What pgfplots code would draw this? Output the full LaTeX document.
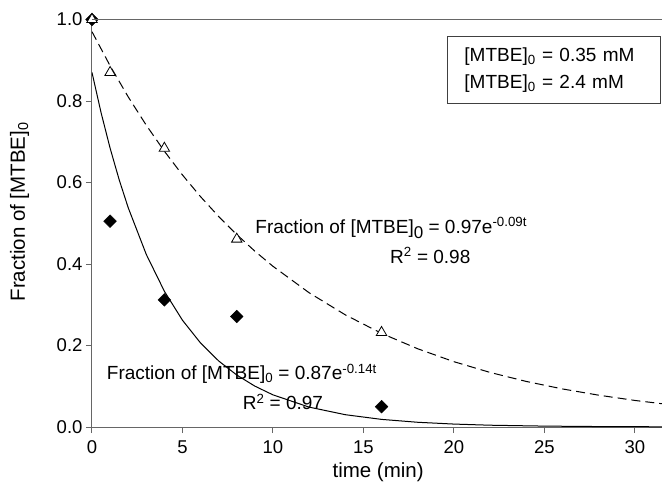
\documentclass[border=0pt]{standalone}
\usepackage{fontspec}
\setmainfont{Liberation Sans}
\usepackage{pgfplots}
\pgfplotsset{compat=1.18}

\begin{document}
\begin{tikzpicture}[font=\fontsize{19}{23}\selectfont]
\begin{axis}[
  name=ax, scale only axis, width=570pt, height=407.5pt,
  xmin=0, xmax=31.5, ymin=0, ymax=1,
  axis lines*=left, axis line style={black!60, line width=1pt},
  tick align=outside, major tick length=6pt, tick style={black!60, line width=1pt},
  xtick={0,5,10,15,20,25,30}, ytick={0,0.2,0.4,0.6,0.8,1.0},
  tick label style={font=\fontsize{18.5}{22}\selectfont},
  x tick label style={yshift=-4pt},
  y tick label style={/pgf/number format/.cd, fixed, fixed zerofill, precision=1},
  /pgf/number format/assume math mode=true,
  xlabel={time (min)}, ylabel={Fraction of [MTBE]\textsubscript{0}},
  label style={font=\fontsize{20.5}{24}\selectfont},
  xlabel style={at={(axis description cs:0.502,-0.11)}, anchor=center},
  ylabel style={at={(axis description cs:-0.127,0.528)}, anchor=center},
  clip mode=individual,
  extra description/.code={\draw[black!60, line width=1pt] (rel axis cs:0,1) -- (rel axis cs:1,1);},
]
% fitted curves (as drawn)
\addplot[black, line width=1pt] coordinates {
  (0,0.870) (0.5,0.7716) (1,0.6844) (1.5,0.6070) (2,0.5383) (3,0.4235) (4,0.3331)
  (5,0.2620) (6,0.2061) (7,0.1621) (8,0.1276) (9,0.1003) (10,0.0789) (12,0.0488)
  (14,0.0302) (16,0.0187) (18,0.0116) (20,0.0072) (22,0.0044) (25,0.0022)
  (28,0.0011) (31.5,0.0005)};
\addplot[black, line width=1pt, dash pattern=on 9pt off 5pt] coordinates {
  (0,0.970) (1,0.8865) (2,0.8102) (3,0.7405) (4,0.6768) (5,0.6185) (6,0.5652)
  (7,0.5166) (8,0.4722) (9,0.4315) (10,0.3944) (12,0.3294) (14,0.2752) (16,0.2298)
  (18,0.1920) (20,0.1603) (22,0.1339) (24,0.1118) (26,0.0934) (28,0.0781)
  (30,0.0652) (32,0.0544)};
% 2.4 mM
\addplot[only marks, mark=square*, mark size=4.5pt, mark options={rotate=45, fill=black, draw=black}] coordinates {
  (0,1.0) (1,0.505) (4,0.312) (8,0.271) (16,0.050)};
% 0.35 mM
\addplot[only marks, mark=triangle*, mark size=6pt, mark options={fill=white, draw=black, line width=0.8pt}] coordinates {
  (0,1.0) (1,0.870) (4,0.684) (8,0.461) (16,0.232)};

\node[anchor=base west] at (axis cs:8.84,0.476)
  {Fraction of [MTBE]\raisebox{-0.3em}{\fontsize{17}{17}\selectfont 0} = 0.97e\textsuperscript{-0.09t}};
\node[anchor=base west] at (axis cs:16.28,0.402) {R\textsuperscript{2} = 0.98};
\node[anchor=base west] at (axis cs:0.63,0.117)
  {Fraction of [MTBE]\textsubscript{0} = 0.87e\textsuperscript{-0.14t}};
\node[anchor=base west] at (axis cs:8.14,0.042) {R\textsuperscript{2} = 0.97};

\node[draw=black!75, line width=0.8pt, anchor=north east, text width=179pt,
  inner xsep=17pt, inner ysep=11pt, align=left, font=\fontsize{19}{27.4}\selectfont]
  at (rel axis cs:0.998,0.9595)
  {[MTBE]\textsubscript{0} = 0.35 mM\\{}[MTBE]\textsubscript{0} = 2.4 mM};
\end{axis}
\pgfresetboundingbox
\path[use as bounding box] ([shift={(-92pt,-56pt)}]ax.south west) rectangle ([shift={(0pt,19.5pt)}]ax.north east);
\end{tikzpicture}
\end{document}
